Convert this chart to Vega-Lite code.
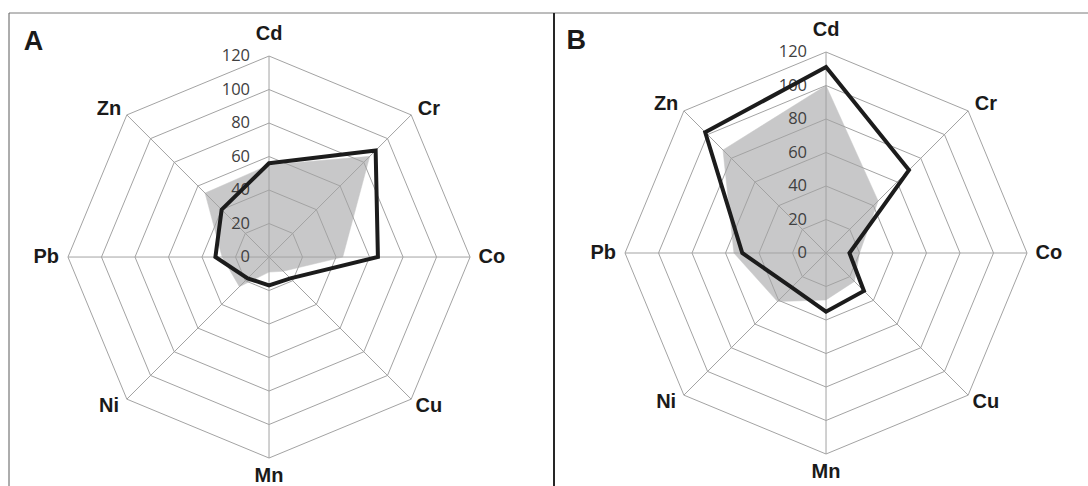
{
  "$schema": "https://vega.github.io/schema/vega-lite/v6.json",
  "autosize": {"type": "pad"},
  "bounds": "flush",
  "padding": {"left": 8, "top": 12, "right": 0, "bottom": 0},
  "spacing": 0,
  "config": {"view": {"stroke": null}, "concat": {"spacing": 0}},
  "datasets": {
    "series": [
      {"panel": "A", "series": "Series 1", "metal": "Cd", "value": 55},
      {"panel": "A", "series": "Series 1", "metal": "Cr", "value": 85},
      {"panel": "A", "series": "Series 1", "metal": "Co", "value": 44},
      {"panel": "A", "series": "Series 1", "metal": "Cu", "value": 12},
      {"panel": "A", "series": "Series 1", "metal": "Mn", "value": 9},
      {"panel": "A", "series": "Series 1", "metal": "Ni", "value": 25},
      {"panel": "A", "series": "Series 1", "metal": "Pb", "value": 28},
      {"panel": "A", "series": "Series 1", "metal": "Zn", "value": 54},
      {"panel": "A", "series": "Series 2", "metal": "Cd", "value": 56},
      {"panel": "A", "series": "Series 2", "metal": "Cr", "value": 90},
      {"panel": "A", "series": "Series 2", "metal": "Co", "value": 65},
      {"panel": "A", "series": "Series 2", "metal": "Cu", "value": 18},
      {"panel": "A", "series": "Series 2", "metal": "Mn", "value": 17},
      {"panel": "A", "series": "Series 2", "metal": "Ni", "value": 18},
      {"panel": "A", "series": "Series 2", "metal": "Pb", "value": 32},
      {"panel": "A", "series": "Series 2", "metal": "Zn", "value": 40},
      {"panel": "B", "series": "Series 1", "metal": "Cd", "value": 100},
      {"panel": "B", "series": "Series 1", "metal": "Cr", "value": 44},
      {"panel": "B", "series": "Series 1", "metal": "Co", "value": 20},
      {"panel": "B", "series": "Series 1", "metal": "Cu", "value": 24},
      {"panel": "B", "series": "Series 1", "metal": "Mn", "value": 28},
      {"panel": "B", "series": "Series 1", "metal": "Ni", "value": 41},
      {"panel": "B", "series": "Series 1", "metal": "Pb", "value": 55},
      {"panel": "B", "series": "Series 1", "metal": "Zn", "value": 87},
      {"panel": "B", "series": "Series 2", "metal": "Cd", "value": 111},
      {"panel": "B", "series": "Series 2", "metal": "Cr", "value": 70},
      {"panel": "B", "series": "Series 2", "metal": "Co", "value": 14},
      {"panel": "B", "series": "Series 2", "metal": "Cu", "value": 32},
      {"panel": "B", "series": "Series 2", "metal": "Mn", "value": 35},
      {"panel": "B", "series": "Series 2", "metal": "Ni", "value": 29},
      {"panel": "B", "series": "Series 2", "metal": "Pb", "value": 50},
      {"panel": "B", "series": "Series 2", "metal": "Zn", "value": 102}
    ],
    "rings": [
      {"ring": 20, "metal": ["Cd", "Cr", "Co", "Cu", "Mn", "Ni", "Pb", "Zn"]},
      {"ring": 40, "metal": ["Cd", "Cr", "Co", "Cu", "Mn", "Ni", "Pb", "Zn"]},
      {"ring": 60, "metal": ["Cd", "Cr", "Co", "Cu", "Mn", "Ni", "Pb", "Zn"]},
      {"ring": 80, "metal": ["Cd", "Cr", "Co", "Cu", "Mn", "Ni", "Pb", "Zn"]},
      {"ring": 100, "metal": ["Cd", "Cr", "Co", "Cu", "Mn", "Ni", "Pb", "Zn"]},
      {"ring": 120, "metal": ["Cd", "Cr", "Co", "Cu", "Mn", "Ni", "Pb", "Zn"]}
    ],
    "axes": [
      {"metal": "Cd"}, {"metal": "Cr"}, {"metal": "Co"}, {"metal": "Cu"},
      {"metal": "Mn"}, {"metal": "Ni"}, {"metal": "Pb"}, {"metal": "Zn"}
    ],
    "ticks": [
      {"tick": 0}, {"tick": 20}, {"tick": 40}, {"tick": 60},
      {"tick": 80}, {"tick": 100}, {"tick": 120}
    ],
    "one": [{}]
  },
  "hconcat": [
    {
      "width": 545,
      "height": 474,
      "layer": [
        {
          "data": {"name": "series"},
          "transform": [
            {"filter": "datum.panel === 'A' && datum.series === 'Series 1'"},
            {"calculate": "indexof(['Cd','Cr','Co','Cu','Mn','Ni','Pb','Zn'], datum.metal)", "as": "idx"},
            {"calculate": "datum.value * sin(datum.idx * PI / 4)", "as": "px"},
            {"calculate": "datum.value * cos(datum.idx * PI / 4)", "as": "py"}
          ],
          "mark": {"type": "line", "interpolate": "linear-closed", "fill": "#c8c8c9", "stroke": "#c8c8c9", "strokeWidth": 0.5},
          "encoding": {
            "x": {"field": "px", "type": "quantitative", "scale": {"domain": [-155.2, 170.1], "nice": false, "zero": false}, "axis": null},
            "y": {"field": "py", "type": "quantitative", "scale": {"domain": [-137.3, 145.7], "nice": false, "zero": false}, "axis": null},
            "order": {"field": "idx", "type": "quantitative"}
          }
        },
        {
          "data": {"name": "rings"},
          "transform": [
            {"flatten": ["metal"]},
            {"calculate": "indexof(['Cd','Cr','Co','Cu','Mn','Ni','Pb','Zn'], datum.metal)", "as": "idx"},
            {"calculate": "datum.ring * sin(datum.idx * PI / 4)", "as": "px"},
            {"calculate": "datum.ring * cos(datum.idx * PI / 4)", "as": "py"}
          ],
          "mark": {"type": "line", "interpolate": "linear-closed", "stroke": "#a3a3a3", "strokeWidth": 1},
          "encoding": {
            "x": {"field": "px", "type": "quantitative", "scale": {"domain": [-155.2, 170.1], "nice": false, "zero": false}, "axis": null},
            "y": {"field": "py", "type": "quantitative", "scale": {"domain": [-137.3, 145.7], "nice": false, "zero": false}, "axis": null},
            "detail": {"field": "ring", "type": "nominal"},
            "order": {"field": "idx", "type": "quantitative"}
          }
        },
        {
          "data": {"name": "axes"},
          "transform": [
            {"calculate": "indexof(['Cd','Cr','Co','Cu','Mn','Ni','Pb','Zn'], datum.metal)", "as": "idx"},
            {"calculate": "120 * sin(datum.idx * PI / 4)", "as": "px"},
            {"calculate": "120 * cos(datum.idx * PI / 4)", "as": "py"}
          ],
          "mark": {"type": "rule", "stroke": "#a3a3a3", "strokeWidth": 1},
          "encoding": {
            "x": {"field": "px", "type": "quantitative", "scale": {"domain": [-155.2, 170.1], "nice": false, "zero": false}, "axis": null},
            "y": {"field": "py", "type": "quantitative", "scale": {"domain": [-137.3, 145.7], "nice": false, "zero": false}, "axis": null},
            "x2": {"datum": 0},
            "y2": {"datum": 0}
          }
        },
        {
          "data": {"name": "ticks"},
          "mark": {"type": "text", "align": "right", "baseline": "middle", "dx": -19, "font": "Open Sans", "fontSize": 16.5, "fill": "#404040"},
          "encoding": {
            "x": {"datum": 0, "type": "quantitative", "scale": {"domain": [-155.2, 170.1], "nice": false, "zero": false}, "axis": null},
            "y": {"field": "tick", "type": "quantitative", "scale": {"domain": [-137.3, 145.7], "nice": false, "zero": false}, "axis": null},
            "text": {"field": "tick", "type": "quantitative"}
          }
        },
        {
          "data": {"name": "series"},
          "transform": [
            {"filter": "datum.panel === 'A' && datum.series === 'Series 2'"},
            {"calculate": "indexof(['Cd','Cr','Co','Cu','Mn','Ni','Pb','Zn'], datum.metal)", "as": "idx"},
            {"calculate": "datum.value * sin(datum.idx * PI / 4)", "as": "px"},
            {"calculate": "datum.value * cos(datum.idx * PI / 4)", "as": "py"}
          ],
          "mark": {"type": "line", "interpolate": "linear-closed", "stroke": "#1c1c1c", "strokeWidth": 4, "strokeJoin": "miter"},
          "encoding": {
            "x": {"field": "px", "type": "quantitative", "scale": {"domain": [-155.2, 170.1], "nice": false, "zero": false}, "axis": null},
            "y": {"field": "py", "type": "quantitative", "scale": {"domain": [-137.3, 145.7], "nice": false, "zero": false}, "axis": null},
            "order": {"field": "idx", "type": "quantitative"}
          }
        },
        {
          "data": {"name": "axes"},
          "transform": [
            {"calculate": "indexof(['Cd','Cr','Co','Cu','Mn','Ni','Pb','Zn'], datum.metal)", "as": "idx"},
            {"calculate": "(datum.idx % 2 === 1 ? 135 : 133) * sin(datum.idx * PI / 4)", "as": "lx"},
            {"calculate": "(datum.idx % 2 === 1 ? 125.4 : (datum.idx === 4 ? 131 : 133)) * cos(datum.idx * PI / 4)", "as": "ly"}
          ],
          "mark": {"type": "text", "align": "center", "baseline": "middle", "font": "Liberation Sans", "fontWeight": "bold", "fontSize": 20, "fill": "#1a1a1a"},
          "encoding": {
            "x": {"field": "lx", "type": "quantitative", "scale": {"domain": [-155.2, 170.1], "nice": false, "zero": false}, "axis": null},
            "y": {"field": "ly", "type": "quantitative", "scale": {"domain": [-137.3, 145.7], "nice": false, "zero": false}, "axis": null},
            "text": {"field": "metal", "type": "nominal"}
          }
        },
        {
          "data": {"name": "one"},
          "mark": {"type": "text", "text": "A", "align": "left", "baseline": "alphabetic", "font": "Liberation Sans", "fontWeight": "bold", "fontSize": 27, "fill": "#1a1a1a"},
          "encoding": {
            "x": {"datum": -146.4, "type": "quantitative", "scale": {"domain": [-155.2, 170.1], "nice": false, "zero": false}, "axis": null},
            "y": {"datum": 123.6, "type": "quantitative", "scale": {"domain": [-137.3, 145.7], "nice": false, "zero": false}, "axis": null}
          }
        },
        {
          "data": {"name": "one"},
          "mark": {"type": "rule", "stroke": "#7a7a7a", "strokeWidth": 1},
          "encoding": {
            "y": {"datum": 145.7, "type": "quantitative", "scale": {"domain": [-137.3, 145.7], "nice": false, "zero": false}, "axis": null}
          }
        },
        {
          "data": {"name": "one"},
          "mark": {"type": "rule", "stroke": "#5a5a5a", "strokeWidth": 1},
          "encoding": {
            "x": {"datum": -155.2, "type": "quantitative", "scale": {"domain": [-155.2, 170.1], "nice": false, "zero": false}, "axis": null}
          }
        }
      ]
    },
    {
      "width": 535,
      "height": 474,
      "layer": [
        {
          "data": {"name": "series"},
          "transform": [
            {"filter": "datum.panel === 'B' && datum.series === 'Series 1'"},
            {"calculate": "indexof(['Cd','Cr','Co','Cu','Mn','Ni','Pb','Zn'], datum.metal)", "as": "idx"},
            {"calculate": "datum.value * sin(datum.idx * PI / 4)", "as": "px"},
            {"calculate": "datum.value * cos(datum.idx * PI / 4)", "as": "py"}
          ],
          "mark": {"type": "line", "interpolate": "linear-closed", "fill": "#c8c8c9", "stroke": "#c8c8c9", "strokeWidth": 0.5},
          "encoding": {
            "x": {"field": "px", "type": "quantitative", "scale": {"domain": [-162.4, 157.0], "nice": false, "zero": false}, "axis": null},
            "y": {"field": "py", "type": "quantitative", "scale": {"domain": [-139.7, 143.3], "nice": false, "zero": false}, "axis": null},
            "order": {"field": "idx", "type": "quantitative"}
          }
        },
        {
          "data": {"name": "rings"},
          "transform": [
            {"flatten": ["metal"]},
            {"calculate": "indexof(['Cd','Cr','Co','Cu','Mn','Ni','Pb','Zn'], datum.metal)", "as": "idx"},
            {"calculate": "datum.ring * sin(datum.idx * PI / 4)", "as": "px"},
            {"calculate": "datum.ring * cos(datum.idx * PI / 4)", "as": "py"}
          ],
          "mark": {"type": "line", "interpolate": "linear-closed", "stroke": "#a3a3a3", "strokeWidth": 1},
          "encoding": {
            "x": {"field": "px", "type": "quantitative", "scale": {"domain": [-162.4, 157.0], "nice": false, "zero": false}, "axis": null},
            "y": {"field": "py", "type": "quantitative", "scale": {"domain": [-139.7, 143.3], "nice": false, "zero": false}, "axis": null},
            "detail": {"field": "ring", "type": "nominal"},
            "order": {"field": "idx", "type": "quantitative"}
          }
        },
        {
          "data": {"name": "axes"},
          "transform": [
            {"calculate": "indexof(['Cd','Cr','Co','Cu','Mn','Ni','Pb','Zn'], datum.metal)", "as": "idx"},
            {"calculate": "120 * sin(datum.idx * PI / 4)", "as": "px"},
            {"calculate": "120 * cos(datum.idx * PI / 4)", "as": "py"}
          ],
          "mark": {"type": "rule", "stroke": "#a3a3a3", "strokeWidth": 1},
          "encoding": {
            "x": {"field": "px", "type": "quantitative", "scale": {"domain": [-162.4, 157.0], "nice": false, "zero": false}, "axis": null},
            "y": {"field": "py", "type": "quantitative", "scale": {"domain": [-139.7, 143.3], "nice": false, "zero": false}, "axis": null},
            "x2": {"datum": 0},
            "y2": {"datum": 0}
          }
        },
        {
          "data": {"name": "ticks"},
          "mark": {"type": "text", "align": "right", "baseline": "middle", "dx": -19, "font": "Open Sans", "fontSize": 16.5, "fill": "#404040"},
          "encoding": {
            "x": {"datum": 0, "type": "quantitative", "scale": {"domain": [-162.4, 157.0], "nice": false, "zero": false}, "axis": null},
            "y": {"field": "tick", "type": "quantitative", "scale": {"domain": [-139.7, 143.3], "nice": false, "zero": false}, "axis": null},
            "text": {"field": "tick", "type": "quantitative"}
          }
        },
        {
          "data": {"name": "series"},
          "transform": [
            {"filter": "datum.panel === 'B' && datum.series === 'Series 2'"},
            {"calculate": "indexof(['Cd','Cr','Co','Cu','Mn','Ni','Pb','Zn'], datum.metal)", "as": "idx"},
            {"calculate": "datum.value * sin(datum.idx * PI / 4)", "as": "px"},
            {"calculate": "datum.value * cos(datum.idx * PI / 4)", "as": "py"}
          ],
          "mark": {"type": "line", "interpolate": "linear-closed", "stroke": "#1c1c1c", "strokeWidth": 4, "strokeJoin": "miter"},
          "encoding": {
            "x": {"field": "px", "type": "quantitative", "scale": {"domain": [-162.4, 157.0], "nice": false, "zero": false}, "axis": null},
            "y": {"field": "py", "type": "quantitative", "scale": {"domain": [-139.7, 143.3], "nice": false, "zero": false}, "axis": null},
            "order": {"field": "idx", "type": "quantitative"}
          }
        },
        {
          "data": {"name": "axes"},
          "transform": [
            {"calculate": "indexof(['Cd','Cr','Co','Cu','Mn','Ni','Pb','Zn'], datum.metal)", "as": "idx"},
            {"calculate": "(datum.idx % 2 === 1 ? 135 : 133) * sin(datum.idx * PI / 4)", "as": "lx"},
            {"calculate": "(datum.idx % 2 === 1 ? 125.4 : (datum.idx === 4 ? 131 : 133)) * cos(datum.idx * PI / 4)", "as": "ly"}
          ],
          "mark": {"type": "text", "align": "center", "baseline": "middle", "font": "Liberation Sans", "fontWeight": "bold", "fontSize": 20, "fill": "#1a1a1a"},
          "encoding": {
            "x": {"field": "lx", "type": "quantitative", "scale": {"domain": [-162.4, 157.0], "nice": false, "zero": false}, "axis": null},
            "y": {"field": "ly", "type": "quantitative", "scale": {"domain": [-139.7, 143.3], "nice": false, "zero": false}, "axis": null},
            "text": {"field": "metal", "type": "nominal"}
          }
        },
        {
          "data": {"name": "one"},
          "mark": {"type": "text", "text": "B", "align": "left", "baseline": "alphabetic", "font": "Liberation Sans", "fontWeight": "bold", "fontSize": 27, "fill": "#1a1a1a"},
          "encoding": {
            "x": {"datum": -155, "type": "quantitative", "scale": {"domain": [-162.4, 157.0], "nice": false, "zero": false}, "axis": null},
            "y": {"datum": 121.6, "type": "quantitative", "scale": {"domain": [-139.7, 143.3], "nice": false, "zero": false}, "axis": null}
          }
        },
        {
          "data": {"name": "one"},
          "mark": {"type": "rule", "stroke": "#7a7a7a", "strokeWidth": 1},
          "encoding": {
            "y": {"datum": 143.3, "type": "quantitative", "scale": {"domain": [-139.7, 143.3], "nice": false, "zero": false}, "axis": null}
          }
        },
        {
          "data": {"name": "one"},
          "mark": {"type": "rule", "stroke": "#262626", "strokeWidth": 2},
          "encoding": {
            "x": {"datum": -162.4, "type": "quantitative", "scale": {"domain": [-162.4, 157.0], "nice": false, "zero": false}, "axis": null}
          }
        }
      ]
    }
  ]
}
